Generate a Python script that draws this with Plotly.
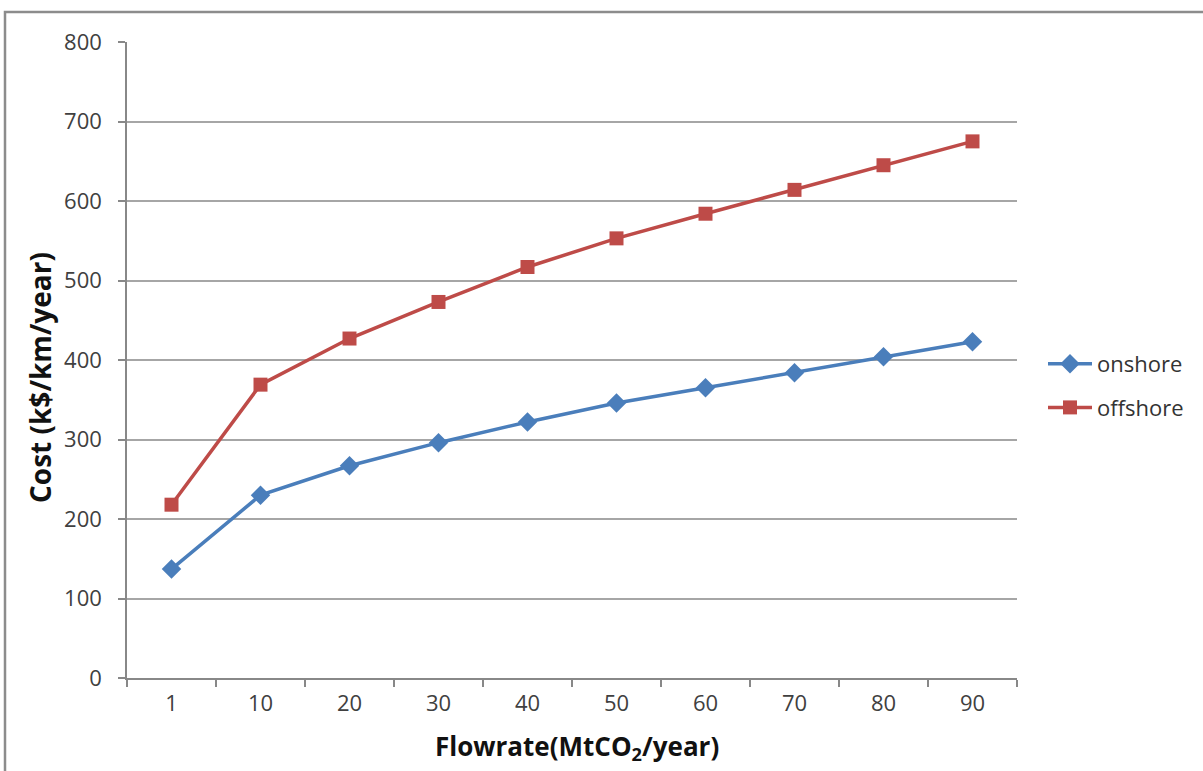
import plotly.graph_objects as go

categories = ["1", "10", "20", "30", "40", "50", "60", "70", "80", "90"]
onshore = [137, 230, 267, 296, 322, 346, 365, 384, 404, 423]
offshore = [218, 369, 427, 473, 517, 553, 584, 614, 645, 675]
y_ticks = [0, 100, 200, 300, 400, 500, 600, 700, 800]

FONT = "Open Sans"
W, H = 1203, 771
L, R, T, B = 127, 1017, 42, 678

fig = go.Figure()
fig.add_trace(go.Scatter(
    x=categories, y=onshore, name="onshore", mode="lines+markers", legendgroup="a",
    line=dict(color="#4a7ebb", width=3.5),
    marker=dict(symbol="diamond", size=15, color="#4a7ebb"),
))
fig.add_trace(go.Scatter(
    x=categories, y=offshore, name="offshore", mode="lines+markers", legendgroup="b",
    line=dict(color="#be4b48", width=3.5),
    marker=dict(symbol="square", size=14, color="#be4b48"),
))

fig.update_layout(
    width=W, height=H,
    margin=dict(l=L, r=W - R, t=T, b=H - B),
    paper_bgcolor="white", plot_bgcolor="white",
    font=dict(family=FONT, color="#404040", size=22),
    legend=dict(x=(1043 - L) / (R - L), y=(678 - 386) / (B - T), xanchor="left", yanchor="middle",
                font=dict(size=22, color="#333333"), tracegroupgap=12, itemwidth=44,
                bgcolor="rgba(0,0,0,0)"),
    xaxis=dict(
        type="category", range=[-0.5, 9.5], tickson="boundaries",
        ticks="outside", ticklen=7, tickcolor="#888888", tickwidth=1.5,
        showline=True, linecolor="#888888", linewidth=1.5,
        showgrid=False, tickfont=dict(size=22, color="#404040"), ticklabelstandoff=5,
    ),
    yaxis=dict(
        range=[0, 800], tickvals=y_ticks, ticks="outside", ticklen=7,
        tickcolor="#888888", tickwidth=1.5,
        showline=True, linecolor="#888888", linewidth=1.5,
        showgrid=True, gridcolor="#a6a6a6", gridwidth=1.5, zeroline=False,
        tickfont=dict(size=22, color="#404040"), ticklabelstandoff=12,
    ),
    annotations=[
        dict(text="<b>Cost (k$/km/year)</b>", xref="paper", yref="paper",
             x=(40 - L) / (R - L), y=(B - 378) / (B - T),
             xanchor="center", yanchor="middle", textangle=-90, showarrow=False,
             font=dict(size=28, color="#111111")),
        dict(text="<b>Flowrate(MtCO<sub>2</sub>/year)</b>", xref="paper", yref="paper",
             x=(577 - L) / (R - L), y=(B - 747) / (B - T),
             xanchor="center", yanchor="middle", showarrow=False,
             font=dict(size=26, color="#111111")),
    ],
    shapes=[dict(type="rect", xref="paper", yref="paper",
                 x0=(5 - L) / (R - L), x1=(1215 - L) / (R - L),
                 y0=(B - 785) / (B - T), y1=(B - 12) / (B - T),
                 line=dict(color="#8c8c8c", width=2.5), layer="below")],
)

fig.write_html("out.html")
